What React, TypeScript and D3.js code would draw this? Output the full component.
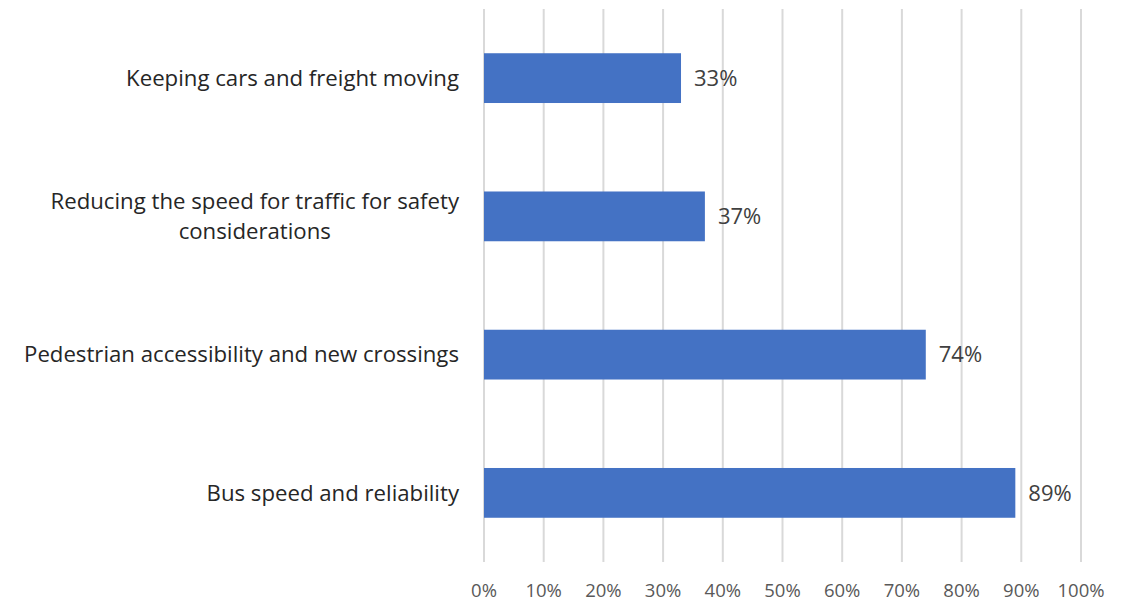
import { useRef, useEffect } from 'react'
import * as d3 from 'd3'

const categories = [
  'Keeping cars and freight moving',
  'Reducing the speed for traffic for safety\nconsiderations',
  'Pedestrian accessibility and new crossings',
  'Bus speed and reliability',
]
const values = [33, 37, 74, 89]
const ticks = [0, 10, 20, 30, 40, 50, 60, 70, 80, 90, 100]

const W = 1132
const H = 602
const FONT = "'Open Sans', 'Noto Sans', sans-serif"

export default function App() {
  const svgRef = useRef<SVGSVGElement>(null)

  useEffect(() => {
    if (!svgRef.current) return
    const svg = d3.select(svgRef.current)
    svg.selectAll('*').remove()

    const x = d3.scaleLinear().domain([0, 100]).range([484, 1081])
    const y = d3.scaleBand().domain(categories).range([9, 562]).paddingInner(0.64).paddingOuter(0.32)

    // Gridlines
    svg.append('g')
      .selectAll('line')
      .data(ticks)
      .join('line')
      .attr('x1', (d) => x(d))
      .attr('x2', (d) => x(d))
      .attr('y1', 9)
      .attr('y2', 562)
      .attr('stroke', '#d9d9d9')
      .attr('stroke-width', 2)

    // Bars
    svg.append('g')
      .selectAll('rect')
      .data(values)
      .join('rect')
      .attr('x', x(0))
      .attr('y', (_, i) => y(categories[i]) ?? 0)
      .attr('width', (d) => x(d) - x(0))
      .attr('height', y.bandwidth())
      .attr('fill', '#4472C4')

    // Data labels
    svg.append('g')
      .selectAll('text')
      .data(values)
      .join('text')
      .attr('x', (d) => x(d) + 13)
      .attr('y', (_, i) => (y(categories[i]) ?? 0) + y.bandwidth() / 2)
      .attr('dy', '0.35em')
      .attr('font-family', FONT)
      .attr('font-size', 22)
      .attr('fill', '#404040')
      .text((d) => `${d}%`)

    // X tick labels
    svg.append('g')
      .selectAll('text')
      .data(ticks)
      .join('text')
      .attr('x', (d) => x(d))
      .attr('y', 591)
      .attr('dy', '0.35em')
      .attr('text-anchor', 'middle')
      .attr('font-family', FONT)
      .attr('font-size', 18.5)
      .attr('fill', '#595959')
      .text((d) => `${d}%`)

    // Category labels, wrapped lines centred on the widest line
    const right = 459
    const lineH = 30
    categories.forEach((c) => {
      const lines = c.split('\n')
      const cy = (y(c) ?? 0) + y.bandwidth() / 2
      const g = svg.append('g')
      const texts = lines.map((ln, j) =>
        g.append('text')
          .attr('y', cy + (j - (lines.length - 1) / 2) * lineH)
          .attr('dy', '0.35em')
          .attr('font-family', FONT)
          .attr('font-size', 22.2)
          .attr('fill', '#262626')
          .attr('text-anchor', 'middle')
          .text(ln)
      )
      const widths = texts.map((t) => (t.node() as SVGTextElement).getComputedTextLength())
      const maxW = d3.max(widths) ?? 0
      texts.forEach((t) => t.attr('x', right - maxW / 2))
    })
  }, [])

  return (
    <svg
      ref={svgRef}
      width={W}
      height={H}
      style={{ position: 'absolute', left: 0, top: 0, display: 'block', background: '#fff' }}
    />
  )
}
